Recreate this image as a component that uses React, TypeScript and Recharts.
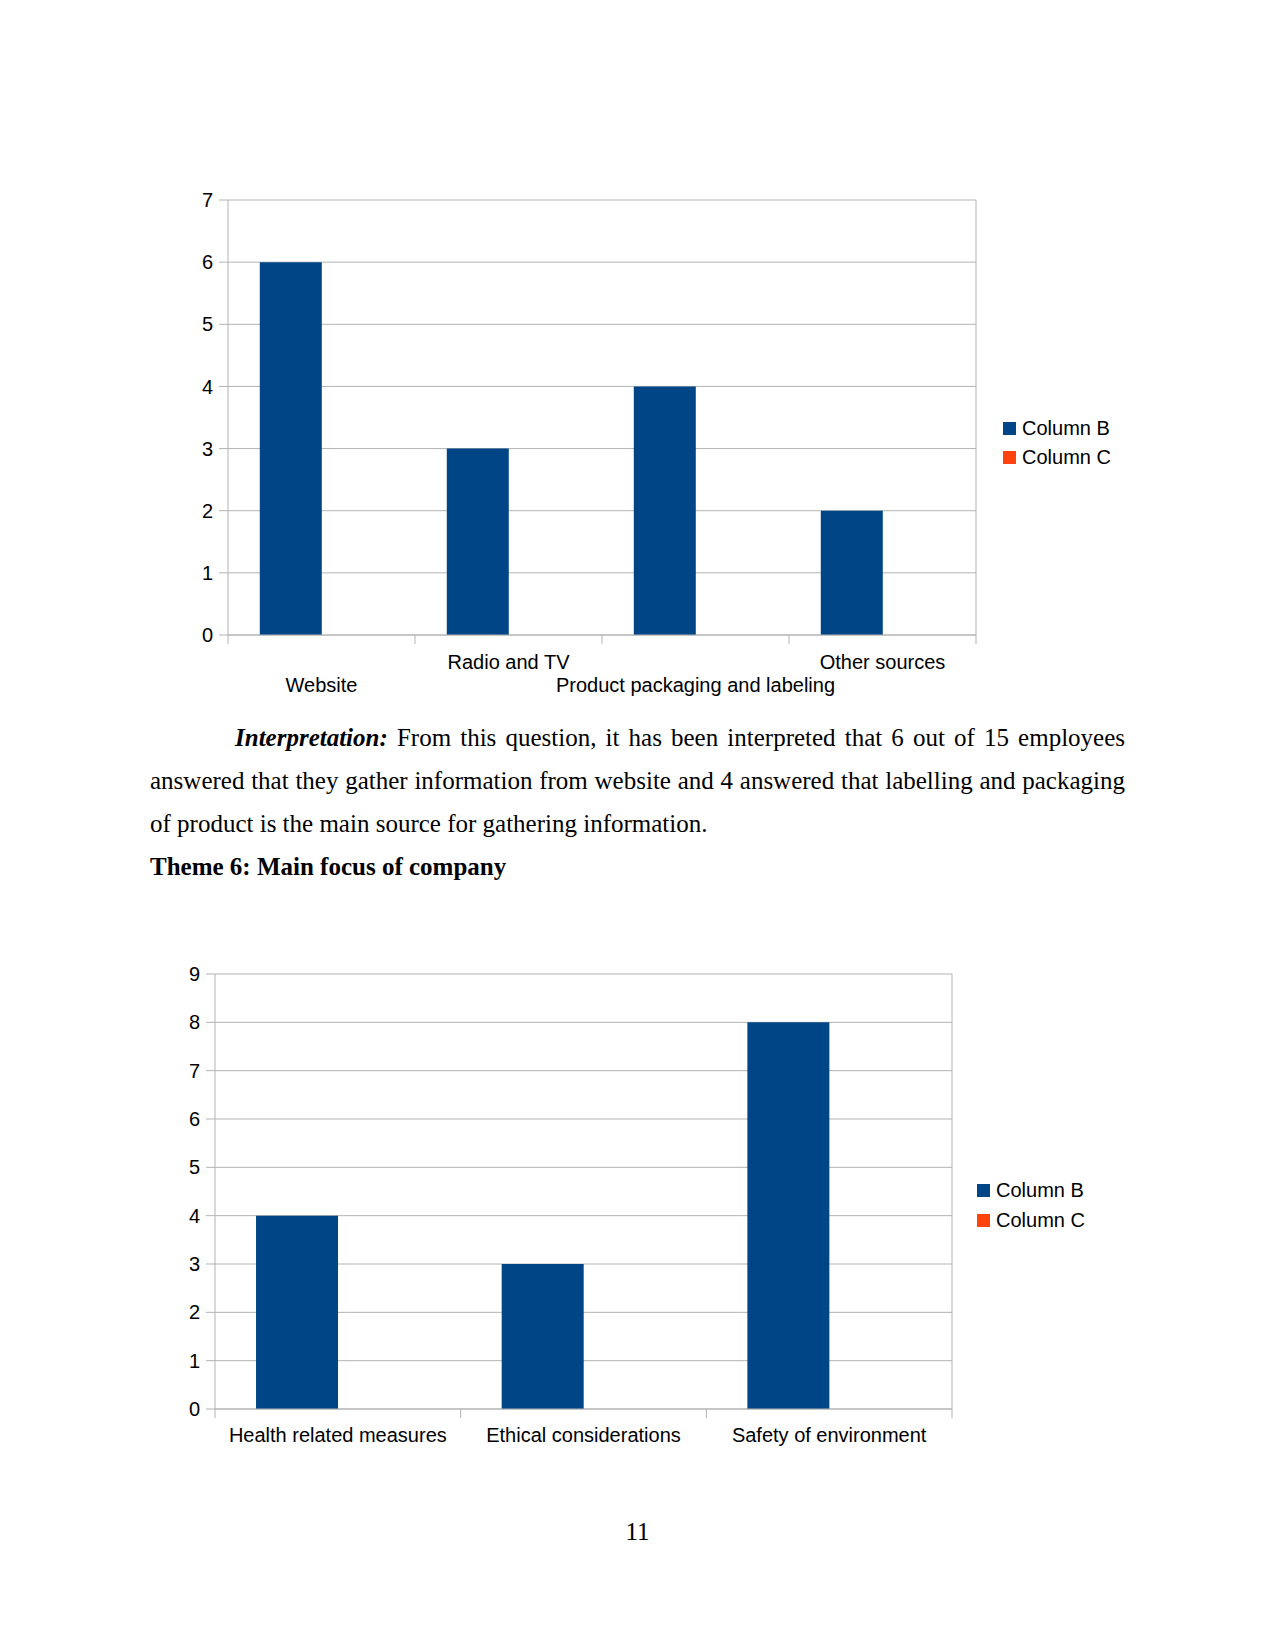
import React from "react"
import { Bar, BarChart, CartesianGrid, Legend, XAxis, YAxis } from "recharts"

const sourceCategories = ["Website", "Radio and TV", "Product packaging and labeling", "Other sources"]
const sourceColumnB = [6, 3, 4, 2]
const sourceColumnC = [null, null, null, null]
const sourceTicks = [0, 1, 2, 3, 4, 5, 6, 7]

const focusCategories = ["Health related measures", "Ethical considerations", "Safety of environment"]
const focusColumnB = [4, 3, 8]
const focusColumnC = [null, null, null]
const focusTicks = [0, 1, 2, 3, 4, 5, 6, 7, 8, 9]

const seriesNames = ["Column B", "Column C"]

const sourceData = sourceCategories.map((name, i) => ({ name, b: sourceColumnB[i], c: sourceColumnC[i] }))
const focusData = focusCategories.map((name, i) => ({ name, b: focusColumnB[i], c: focusColumnC[i] }))

const GRID = "#b3b3b3"
const BLUE = "#004586"
const ORANGE = "#ff420e"
const SANS = "'Liberation Sans', Arial, sans-serif"
const SERIF = "'Liberation Serif', 'Times New Roman', serif"

function makeTick(band: number, count: number, stagger: boolean, fontSize: number, rowOffset: number) {
  return (props: any) => {
    const { x, y, payload, index } = props
    const lower = stagger && index % 2 === 0
    const left = x - band / 2
    return (
      <g>
        <line x1={left} x2={left} y1={y} y2={y + 9} stroke={GRID} />
        {index === count - 1 && <line x1={x + band / 2} x2={x + band / 2} y1={y} y2={y + 9} stroke={GRID} />}
        <text
          x={x}
          y={y + rowOffset + (lower ? 23 : 0)}
          textAnchor="middle"
          dominantBaseline="central"
          fontSize={fontSize}
          fontFamily={SANS}
          fill="#000"
        >
          {payload.value}
        </text>
      </g>
    )
  }
}

function makeLegend(fontSize: number, rowHeight: number) {
  return (props: any) => (
    <div style={{ fontFamily: SANS, fontSize, color: "#000" }}>
      {(props.payload || []).map((item: any) => (
        <div key={item.value} style={{ display: "flex", alignItems: "center", height: rowHeight }}>
          <span style={{ width: 13, height: 13, background: item.color, marginRight: 6, display: "inline-block" }} />
          <span style={{ whiteSpace: "nowrap" }}>{item.value}</span>
        </div>
      ))}
    </div>
  )
}

function SourceChart() {
  const band = (976 - 228) / sourceCategories.length
  return (
    <div style={{ position: "absolute", left: 0, top: 0 }}>
      <BarChart
        width={1275}
        height={720}
        data={sourceData}
        margin={{ top: 200, right: 298, bottom: 25, left: 168 }}
        barCategoryGap="17%"
        barGap={0}
      >
        <CartesianGrid vertical={false} stroke={GRID} strokeDasharray="" />
        <XAxis
          dataKey="name"
          height={60}
          axisLine={{ stroke: GRID }}
          tickLine={false}
          tickSize={0}
          tickMargin={0}
          interval={0}
          tick={makeTick(band, sourceCategories.length, true, 20, 27)}
        />
        <YAxis
          width={60}
          domain={[0, 7]}
          ticks={sourceTicks}
          axisLine={{ stroke: GRID }}
          tickLine={{ stroke: GRID }}
          tickSize={9}
          tickMargin={6}
          tick={{ fontSize: 20, fill: "#000", fontFamily: SANS }}
        />
        <YAxis yAxisId="r" orientation="right" width={1} domain={[0, 7]} tick={false} tickLine={false} axisLine={{ stroke: GRID }} />
        <Legend
          layout="vertical"
          align="center"
          verticalAlign="middle"
          wrapperStyle={{ left: 1003, top: 414, width: 120 }}
          content={makeLegend(20, 29)}
        />
        <Bar dataKey="b" name={seriesNames[0]} fill={BLUE} isAnimationActive={false} />
        <Bar dataKey="c" name={seriesNames[1]} fill={ORANGE} isAnimationActive={false} />
      </BarChart>
    </div>
  )
}

function FocusChart() {
  const band = (952 - 215) / focusCategories.length
  return (
    <div style={{ position: "absolute", left: 0, top: 900 }}>
      <BarChart
        width={1275}
        height={560}
        data={focusData}
        margin={{ top: 74, right: 322, bottom: 11, left: 155 }}
        barCategoryGap="16.7%"
        barGap={0}
      >
        <CartesianGrid vertical={false} stroke={GRID} strokeDasharray="" />
        <XAxis
          dataKey="name"
          height={40}
          axisLine={{ stroke: GRID }}
          tickLine={false}
          tickSize={0}
          tickMargin={0}
          interval={0}
          tick={makeTick(band, focusCategories.length, false, 20, 26)}
        />
        <YAxis
          width={60}
          domain={[0, 9]}
          ticks={focusTicks}
          axisLine={{ stroke: GRID }}
          tickLine={{ stroke: GRID }}
          tickSize={9}
          tickMargin={6}
          tick={{ fontSize: 20, fill: "#000", fontFamily: SANS }}
        />
        <YAxis yAxisId="r" orientation="right" width={1} domain={[0, 9]} tick={false} tickLine={false} axisLine={{ stroke: GRID }} />
        <Legend
          layout="vertical"
          align="center"
          verticalAlign="middle"
          wrapperStyle={{ left: 977, top: 276, width: 120 }}
          content={makeLegend(20, 29.5)}
        />
        <Bar dataKey="b" name={seriesNames[0]} fill={BLUE} isAnimationActive={false} />
        <Bar dataKey="c" name={seriesNames[1]} fill={ORANGE} isAnimationActive={false} />
      </BarChart>
    </div>
  )
}

const lineStyle: React.CSSProperties = {
  height: 43,
  lineHeight: "43px",
  textAlign: "justify",
  textAlignLast: "justify",
  whiteSpace: "nowrap",
}

export default function App() {
  return (
    <div style={{ position: "absolute", left: 0, top: 0, width: 1275, height: 1650, background: "#fff" }}>
      <SourceChart />
      <div style={{ position: "absolute", left: 150, top: 715.5, width: 975, fontFamily: SERIF, fontSize: 25, color: "#000" }}>
        <div style={{ ...lineStyle, paddingLeft: 85, whiteSpace: "normal" }}>
          <b>
            <i>Interpretation:</i>
          </b>{" "}
          From this question, it has been interpreted that 6 out of 15 employees
        </div>
        <div style={{ ...lineStyle, whiteSpace: "normal" }}>
          answered that they gather information from website and 4 answered that labelling and packaging
        </div>
        <div style={{ ...lineStyle, textAlign: "left", textAlignLast: "left" }}>
          of product is the main source for gathering information.
        </div>
        <div style={{ ...lineStyle, textAlign: "left", textAlignLast: "left", fontWeight: "bold" }}>
          Theme 6: Main focus of company
        </div>
      </div>
      <FocusChart />
      <div
        style={{
          position: "absolute",
          left: 0,
          width: 1275,
          top: 1510,
          textAlign: "center",
          fontFamily: SERIF,
          fontSize: 25,
          lineHeight: "43px",
          color: "#000",
        }}
      >
        11
      </div>
    </div>
  )
}
